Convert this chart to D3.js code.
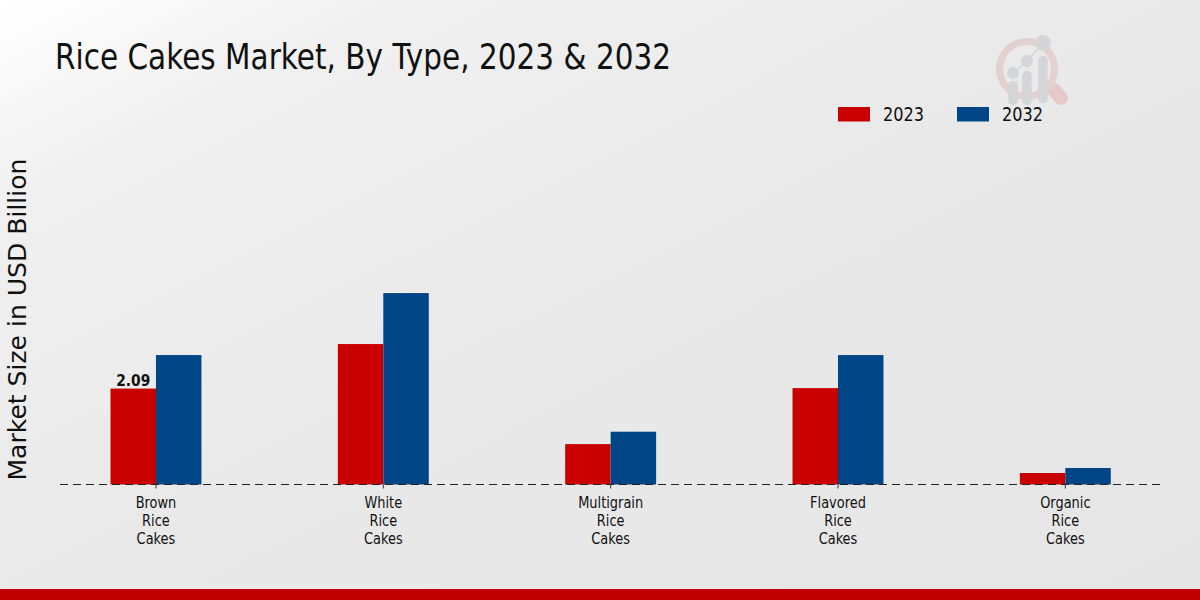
<!DOCTYPE html>
<html>
<head>
<meta charset="utf-8">
<script src="https://cdn.jsdelivr.net/npm/d3@7"></script>
<style>
  html, body { margin: 0; padding: 0; background: #e8e8e8; }
  svg { display: block; }
  text { font-family: "DejaVu Sans", sans-serif; fill: #111; }
  .cond { font-family: "DejaVu Sans Condensed", "DejaVu Sans"; font-stretch: condensed; }
</style>
</head>
<body>
<div class="chart"></div>
<script>
const categories = [
  ['Brown', 'Rice', 'Cakes'],
  ['White', 'Rice', 'Cakes'],
  ['Multigrain', 'Rice', 'Cakes'],
  ['Flavored', 'Rice', 'Cakes'],
  ['Organic', 'Rice', 'Cakes']
];
const seriesNames = ['2023', '2032'];
const seriesColors = ['#c80000', '#004687'];
const values2023 = [2.09, 3.06, 0.88, 2.10, 0.25];
const values2032 = [2.82, 4.17, 1.15, 2.82, 0.36];
const labelled = [{ cat: 0, text: '2.09' }];

const width = 1200;
const height = 600;
const baseline = 484.5;

const svg = d3.select('.chart').append('svg')
  .attr('width', width)
  .attr('height', height);

// background gradient, white corner at top left fading to grey
const grad = svg.append('defs').append('linearGradient')
  .attr('id', 'bg')
  .attr('x1', 0).attr('y1', 0)
  .attr('x2', 1).attr('y2', 1);
grad.append('stop').attr('offset', '0%').attr('stop-color', '#ffffff');
grad.append('stop').attr('offset', '18%').attr('stop-color', '#f0f0f0');
grad.append('stop').attr('offset', '50%').attr('stop-color', '#e9e9e9');
grad.append('stop').attr('offset', '100%').attr('stop-color', '#e6e6e6');
svg.append('rect')
  .attr('width', width)
  .attr('height', height)
  .attr('fill', 'url(#bg)');

// footer strip
svg.append('rect')
  .attr('x', 0)
  .attr('y', 589)
  .attr('width', width)
  .attr('height', 11)
  .attr('fill', '#c00000');

// watermark logo
const logo = svg.append('g');
logo.append('line')
  .attr('x1', 1054).attr('y1', 90).attr('x2', 1061).attr('y2', 98)
  .attr('stroke', '#e6c8c8')
  .attr('stroke-width', 14)
  .attr('stroke-linecap', 'round');
logo.append('circle')
  .attr('cx', 1027).attr('cy', 69).attr('r', 27.5)
  .attr('fill', 'none')
  .attr('stroke', '#e3d0d0')
  .attr('stroke-width', 7);
logo.append('polyline')
  .attr('points', '1013,73 1027,61 1043,43')
  .attr('fill', 'none')
  .attr('stroke', '#d4d5d7')
  .attr('stroke-width', 1.5);
[[1013, 73, 6, 81, 105], [1027, 61, 6, 71, 105], [1043, 43, 8, 56, 103]].forEach(d => {
  logo.append('circle')
    .attr('cx', d[0]).attr('cy', d[1]).attr('r', d[2])
    .attr('fill', '#d4d5d7');
  logo.append('rect')
    .attr('x', d[0] - 4.75).attr('y', d[3])
    .attr('width', 9.5).attr('height', d[4] - d[3])
    .attr('rx', 4.5)
    .attr('fill', '#d4d5d7');
});

const x = d3.scaleBand()
  .domain(d3.range(categories.length))
  .range([42.3, 1179])
  .paddingInner(0.6)
  .paddingOuter(0.3);

const xInner = d3.scaleBand()
  .domain(seriesNames)
  .range([0, x.bandwidth()]);

const y = d3.scaleLinear()
  .domain([0, 5])
  .range([baseline, 255]);

const rows = categories.map((c, i) => [
  { key: '2023', cat: i, value: values2023[i] },
  { key: '2032', cat: i, value: values2032[i] }
]);

const color = d3.scaleOrdinal().domain(seriesNames).range(seriesColors);

svg.append('g')
  .selectAll('g')
  .data(rows)
  .enter()
  .append('g')
  .attr('transform', (d, i) => `translate(${x(i)},0)`)
  .selectAll('rect')
  .data(d => d)
  .enter()
  .append('rect')
  .attr('x', d => xInner(d.key))
  .attr('y', d => y(d.value))
  .attr('width', xInner.bandwidth())
  .attr('height', d => y(0) - y(d.value))
  .attr('fill', d => color(d.key));

// dashed baseline
svg.append('line')
  .attr('x1', 60).attr('x2', 1160)
  .attr('y1', baseline).attr('y2', baseline)
  .attr('stroke', '#222')
  .attr('stroke-width', 1)
  .attr('stroke-dasharray', '8,5');

// x axis, labels are split over three lines below
const axis = svg.append('g')
  .attr('transform', `translate(0,${baseline})`)
  .call(d3.axisBottom(x).tickSize(4).tickFormat(''));
axis.select('.domain').remove();
axis.selectAll('.tick line').attr('stroke', '#333');

// labels are narrower than the font, squeeze them horizontally
const tickLabels = svg.append('g')
  .selectAll('text')
  .data(categories)
  .enter()
  .append('text')
  .attr('class', 'cond')
  .attr('text-anchor', 'middle')
  .attr('font-size', 16)
  .attr('transform', (d, i) => `translate(${x(i) + x.bandwidth() / 2},507.5) scale(0.9,1)`);
tickLabels.selectAll('tspan')
  .data(d => d)
  .enter()
  .append('tspan')
  .attr('x', 0)
  .attr('dy', (d, j) => (j === 0 ? 0 : 18.2))
  .text(d => d);

// value label
svg.append('g')
  .selectAll('text')
  .data(labelled)
  .enter()
  .append('text')
  .attr('x', d => x(d.cat) + xInner.bandwidth() / 2)
  .attr('y', d => y(values2023[d.cat]) - 3)
  .attr('text-anchor', 'middle')
  .attr('font-size', 16)
  .attr('font-weight', 'bold')
  .attr('textLength', 34)
  .attr('lengthAdjust', 'spacingAndGlyphs')
  .text(d => d.text);

// title
svg.append('text')
  .attr('x', 55)
  .attr('y', 69)
  .attr('font-size', 35)
  .attr('textLength', 616)
  .attr('lengthAdjust', 'spacingAndGlyphs')
  .text('Rice Cakes Market, By Type, 2023 & 2032');

// y axis title
svg.append('text')
  .attr('transform', 'translate(26,319.5) rotate(-90)')
  .attr('text-anchor', 'middle')
  .attr('font-size', 24)
  .attr('textLength', 322)
  .attr('lengthAdjust', 'spacingAndGlyphs')
  .text('Market Size in USD Billion');

// legend
const legendX = d3.scaleOrdinal().domain(seriesNames).range([838, 957]);
const legend = svg.append('g')
  .selectAll('g')
  .data(seriesNames)
  .enter()
  .append('g')
  .attr('transform', d => `translate(${legendX(d)},107)`);
legend.append('rect')
  .attr('width', 32)
  .attr('height', 14.5)
  .attr('fill', d => color(d));
legend.append('text')
  .attr('x', 45)
  .attr('y', 14)
  .attr('font-size', 20)
  .attr('textLength', 41)
  .attr('lengthAdjust', 'spacingAndGlyphs')
  .text(d => d);
</script>
</body>
</html>
